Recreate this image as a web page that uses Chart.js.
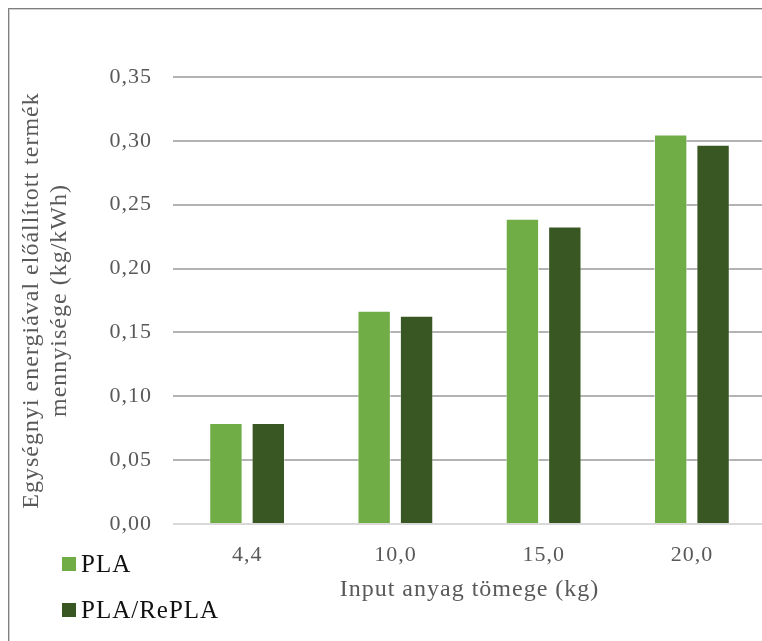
<!DOCTYPE html>
<html>
<head>
<meta charset="utf-8">
<script src="https://cdn.jsdelivr.net/npm/chart.js@4/dist/chart.umd.min.js"></script>
<style>
  html, body { margin: 0; padding: 0; background: #fff; overflow: hidden; }
  #wrap { position: relative; width: 762px; height: 641px; overflow: hidden; }
  #frame { position: absolute; left: 8px; top: 8px; width: 900px; height: 800px;
           border-left: 1px solid #7f7f7f; border-top: 1px solid #7f7f7f;
           box-shadow: inset 1px 1px 0 #d0d0d0; pointer-events: none; }
  #c { position: absolute; left: 0; top: 0; }
</style>
</head>
<body>
<div id="wrap">
  <div id="frame"></div>
  <canvas id="c" width="766" height="641"></canvas>
</div>
<script>
// Input mass categories (kg) and product per unit energy (kg/kWh)
const categories = ['4,4', '10,0', '15,0', '20,0'];
const plaValues = [0.079, 0.167, 0.239, 0.305];
const replaValues = [0.079, 0.163, 0.233, 0.297];
const seriesNames = ['PLA', 'PLA/RePLA'];
const yTitle = ['Egységnyi energiával előállított termék', 'mennyisége (kg/kWh)'];
const xTitle = 'Input anyag tömege (kg)';

const serif = '"Liberation Serif", "Times New Roman", serif';
const grey = '#595959';

// Slightly open letter spacing for all chart text
const textSpacing = {
  id: 'textSpacing',
  beforeUpdate(chart) { chart.ctx.letterSpacing = '1px'; },
  beforeDraw(chart) { chart.ctx.letterSpacing = '1px'; }
};

// Legend stacked in the lower-left corner
const stackedLegend = {
  id: 'stackedLegend',
  afterDraw(chart) {
    const ctx = chart.ctx;
    ctx.save();
    ctx.font = '25px ' + serif;
    ctx.textBaseline = 'middle';
    ctx.textAlign = 'left';
    const rows = [564, 610];
    chart.data.datasets.forEach((ds, i) => {
      const y = rows[i];
      ctx.fillStyle = ds.backgroundColor;
      ctx.fillRect(62, y - 7, 14, 14);
      ctx.fillStyle = '#111';
      ctx.fillText(ds.label, 81, y + 1);
    });
    ctx.restore();
  }
};

new Chart(document.getElementById('c'), {
  type: 'bar',
  data: {
    labels: categories,
    datasets: [
      { label: seriesNames[0], data: plaValues, backgroundColor: '#70AD47',
        borderColor: 'rgba(255,255,255,0.55)', borderWidth: 1 },
      { label: seriesNames[1], data: replaValues, backgroundColor: '#385723',
        borderColor: 'rgba(255,255,255,0.35)', borderWidth: 1 }
    ]
  },
  options: {
    responsive: false,
    animation: false,
    devicePixelRatio: 1,
    layout: { padding: { left: 0, top: 77, right: 0, bottom: 0 } },
    plugins: { legend: { display: false }, tooltip: { enabled: false } },
    datasets: { bar: { categoryPercentage: 0.572, barPercentage: 0.787 } },
    scales: {
      x: {
        grid: { display: false },
        border: { display: false },
        ticks: { color: grey, font: { family: serif, size: 22 }, padding: 10 },
        title: { display: true, text: xTitle, color: grey,
                 font: { family: serif, size: 24, lineHeight: 1.2 },
                 padding: { top: 0, bottom: 37 } },
        afterFit(scale) { scale.height = 117; }
      },
      y: {
        min: 0, max: 0.35,
        grid: {
          color: (c) => (c.tick && c.tick.value === 0) ? '#d9d9d9' : '#b3b3b3',
          lineWidth: 2, drawTicks: false
        },
        border: { display: false },
        ticks: {
          stepSize: 0.05, color: grey, padding: 21,
          font: { family: serif, size: 22 },
          callback: (v) => v.toFixed(2).replace('.', ',')
        },
        title: { display: true, text: yTitle, color: grey,
                 font: { family: serif, size: 24, lineHeight: 1.17 },
                 padding: { top: 18, bottom: 0 } },
        afterFit(scale) { scale.width = 173; }
      }
    }
  },
  plugins: [textSpacing, stackedLegend]
});
</script>
</body>
</html>
